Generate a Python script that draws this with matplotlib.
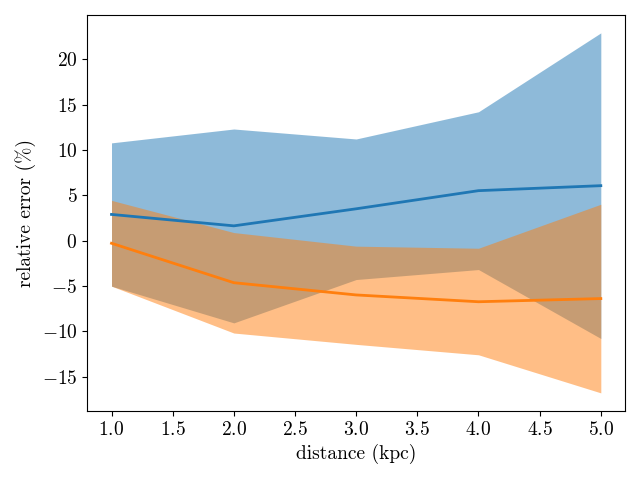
import numpy as np
import matplotlib
matplotlib.use("Agg")
import matplotlib.pyplot as plt

# distance in kpc
distance = [1.0, 2.0, 3.0, 4.0, 5.0]

# first series (blue): median and band
blue_mid = [2.88, 1.62, 3.5, 5.5, 6.05]
blue_hi = [10.77, 12.3, 11.2, 14.2, 22.9]
blue_lo = [-5.03, -9.08, -4.3, -3.2, -10.8]

# second series (orange)
orange_mid = [-0.3, -4.65, -6.0, -6.75, -6.4]
orange_hi = [4.43, 0.88, -0.62, -0.85, 4.0]
orange_lo = [-5.03, -10.2, -11.45, -12.6, -16.8]

plt.rcParams['font.family'] = 'serif'
plt.rcParams['font.serif'] = ['cmr10']
plt.rcParams['mathtext.fontset'] = 'cm'
plt.rcParams['axes.formatter.use_mathtext'] = True
plt.rcParams['font.size'] = 14

fig, ax = plt.subplots(figsize=(6.4, 4.8), dpi=100)

ax.fill_between(distance, blue_lo, blue_hi, color='C0', alpha=0.5, linewidth=0)
ax.plot(distance, blue_mid, color='C0', linewidth=2)
ax.fill_between(distance, orange_lo, orange_hi, color='C1', alpha=0.5, linewidth=0)
ax.plot(distance, orange_mid, color='C1', linewidth=2)

ax.set_xlabel('distance (kpc)')
ax.set_ylabel('relative error (%)')
ax.set_xticks(np.arange(1.0, 5.01, 0.5))
ax.set_yticks(np.arange(-15, 21, 5))

fig.subplots_adjust(left=0.136, right=0.977, top=0.969, bottom=0.144)
fig.savefig('out.png')
